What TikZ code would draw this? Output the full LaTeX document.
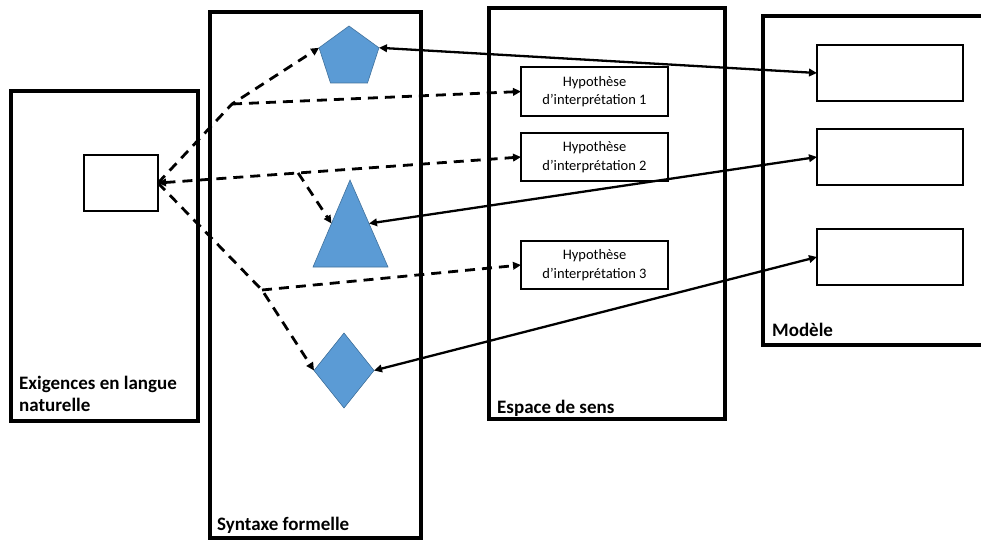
\documentclass[tikz,border=0pt]{standalone}
\usepackage{fontspec}
\setmainfont{Carlito}
\usetikzlibrary{arrows.meta,shapes.geometric,calc}

\definecolor{shapeblue}{HTML}{5B9BD5}
\definecolor{shapeedge}{HTML}{41719C}

\tikzset{
  bigbox/.style={draw, line width=4.2pt, inner sep=0pt, outer sep=0pt},
  smallbox/.style={draw, line width=2.7pt, inner sep=0pt, outer sep=0pt},
  hypbox/.style={smallbox, align=center, font=\fontsize{14.5}{18.5}\selectfont},
  boxlabel/.style={anchor=base west, inner sep=0pt, align=left,
    font=\fontsize{19}{22}\selectfont\bfseries},
  bluefill/.style={fill=shapeblue, draw=shapeedge, line width=0.6pt,
    inner sep=0pt, outer sep=0pt},
  tip/.tip={Triangle[length=8pt,width=7.5pt]},
  dashlink/.style={line width=2.8pt, dash pattern=on 10pt off 7pt},
  solidlink/.style={line width=2.3pt},
}

\begin{document}
\begin{tikzpicture}[x=1pt,y=-1pt]
  \useasboundingbox (0,0) rectangle (981,541);
  \clip (0,0) rectangle (981,541);

  % the four columns
  \node[bigbox, minimum width=187pt, minimum height=330pt] (exig) at (104.5,256) {};
  \node[bigbox, minimum width=211pt, minimum height=526pt] (syn) at (315.5,275) {};
  \node[bigbox, minimum width=236pt, minimum height=411pt] (esp) at (607,213.5) {};
  \node[bigbox, minimum width=227pt, minimum height=329pt] (mod) at (876.5,180.5) {};

  \node[boxlabel] (exiglbl) at (19,411) {Exigences en langue\\naturelle};
  \node[boxlabel] (synlbl) at (217,530) {Syntaxe formelle};
  \node[boxlabel] (esplbl) at (497,413) {Espace de sens};
  \node[boxlabel] (modlbl) at (772,336) {Modèle};

  % requirement
  \node[smallbox, minimum width=74pt, minimum height=56pt] (req) at (121,183) {};

  % interpretation hypotheses
  \node[hypbox, minimum width=147pt, minimum height=49pt] (h1) at (594.5,91.5) {Hypothèse\\d’interprétation 1};
  \node[hypbox, minimum width=147pt, minimum height=48pt] (h2) at (594.5,157) {Hypothèse\\d’interprétation 2};
  \node[hypbox, minimum width=147pt, minimum height=48pt] (h3) at (594.5,265) {Hypothèse\\d’interprétation 3};

  % model elements
  \node[smallbox, minimum width=146pt, minimum height=56pt] (m1) at (890,73) {};
  \node[smallbox, minimum width=146pt, minimum height=56pt] (m2) at (890,157) {};
  \node[smallbox, minimum width=146pt, minimum height=56pt] (m3) at (890,257) {};

  % formal syntax shapes
  \node[bluefill, regular polygon, regular polygon sides=5, minimum size=63pt] (pent) at (349,57.5) {};
  \coordinate (tri-top) at (350,180);
  \coordinate (tri-bl) at (313,267);
  \coordinate (tri-br) at (388,267);
  \filldraw[bluefill] (tri-top) -- (tri-br) -- (tri-bl) -- cycle;
  \coordinate (tri-l) at ($(tri-top)!0.5!(tri-bl)$);
  \coordinate (tri-r) at ($(tri-top)!0.5!(tri-br)$);
  \node[bluefill, diamond, minimum width=60pt, minimum height=75pt] (dia) at (344,370.5) {};

  % dashed links: requirement -> syntax -> hypotheses
  \coordinate (b1) at (232,104);
  \coordinate (b3) at (262,290);
  \coordinate (b2) at ($(req.east)!0.386!(h2.west)$);

  \draw[dashlink, -tip] (req.east) -- (b1) -- (pent.corner 2);
  \draw[dashlink, -tip] (b1) -- (h1.west);
  \draw[dashlink, tip-tip] (req.east) -- (h2.west);
  \draw[dashlink, -tip] (b2) -- (tri-l);
  \draw[dashlink, -tip] (req.east) -- (b3) -- (dia.west);
  \draw[dashlink, -tip] (b3) -- (h3.west);

  % solid links: syntax <-> model
  \draw[solidlink, tip-tip] (pent.corner 5) -- (m1.west);
  \draw[solidlink, tip-tip] (tri-r) -- (m2.west);
  \draw[solidlink, tip-tip] (dia.east) -- (m3.west);
\end{tikzpicture}
\end{document}
